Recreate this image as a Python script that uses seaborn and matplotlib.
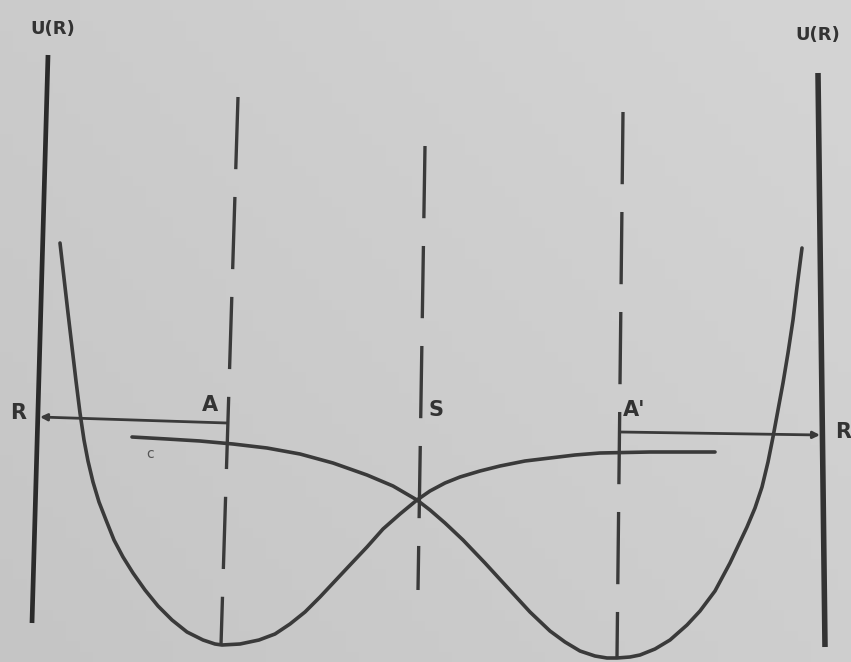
import numpy as np
import pandas as pd
import matplotlib
matplotlib.use("Agg")
import matplotlib.pyplot as plt
import seaborn as sns

sns.set_theme(style="white")
plt.rcParams["font.family"] = ["DejaVu Sans"]
plt.rcParams["lines.scale_dashes"] = False

# Potential energy curve of the left well (reactant A)
left_R = [60, 64, 68, 72, 76, 80, 84, 88, 93, 99, 106, 114, 123, 133, 145, 158,
          172, 187, 203, 215, 222, 240, 259, 275, 290, 305, 320, 335, 350, 367,
          383, 400, 417, 430, 445, 460, 480, 500, 525, 550, 575, 600, 650, 715]
left_U = [419, 384, 349, 315, 281, 249, 222, 201, 180, 160, 142, 122, 105, 89,
          72, 56, 42, 30, 22, 18, 17, 18, 22, 28, 38, 50, 65, 81, 97, 115, 133,
          148, 162, 171, 179, 185, 191, 196, 201, 204, 207, 209, 210, 210]

# Potential energy curve of the right well (product A')
right_R = [132, 167, 200, 233, 267, 300, 333, 367, 393, 405, 417, 430, 445, 463,
           485, 507, 530, 550, 565, 580, 595, 607, 617, 630, 640, 655, 670, 687,
           700, 715, 730, 747, 755, 762, 768, 773, 778, 783, 788, 793, 797, 802]
right_U = [225, 223, 221, 218, 214, 208, 199, 187, 176, 169, 162, 152, 139, 122,
           99, 75, 50, 31, 20, 11, 6, 4, 4, 5, 7, 13, 22, 37, 51, 71, 99, 135,
           154, 175, 200, 225, 252, 279, 309, 342, 375, 414]

# Energy axes (left and right)
axis_left_R, axis_left_U = [32, 48], [39, 607]
axis_right_R, axis_right_U = [825, 818], [15, 589]

# Dashed markers at A, S (crossing) and A'
marker_names = ["A", "S", "A'"]
marker_R = [[238, 221], [425, 418], [623, 617]]
marker_U = [[565, 17], [516, 72], [550, 5]]

# Horizontal arrows from the minima to the axes
arrow_left = ((227, 239), (40, 245))
arrow_right = ((620, 230), (820, 227))

ink = "#3a3a3a"
paper = "#cbcbcb"

fig = plt.figure(figsize=(8.51, 6.62), dpi=100, facecolor=paper)
ax = fig.add_axes([0, 0, 1, 1])
ax.set_xlim(0, 851)
ax.set_ylim(0, 662)

# paper tone, slightly lighter towards the upper right
gx, gy = np.meshgrid(np.linspace(0, 1, 64), np.linspace(0, 1, 64))
shade = 0.77 + 0.06 * (0.6 * gx + 0.4 * gy)
ax.imshow(shade, cmap="gray", vmin=0, vmax=1, extent=[0, 851, 0, 662],
          origin="lower", aspect="auto", zorder=0)

df = pd.concat([
    pd.DataFrame({"R": left_R, "U": left_U, "curve": "A"}),
    pd.DataFrame({"R": right_R, "U": right_U, "curve": "A'"}),
])
sns.lineplot(data=df, x="R", y="U", hue="curve", palette=[ink, ink],
             sort=False, estimator=None, legend=False, linewidth=2.6,
             ax=ax, zorder=3)
for line in ax.get_lines():
    line.set_solid_joinstyle("round")

ax.plot(axis_left_R, axis_left_U, color="#2a2a2a", linewidth=3.4,
        solid_capstyle="butt", zorder=3)
ax.plot(axis_right_R, axis_right_U, color="#333333", linewidth=4.0,
        solid_capstyle="butt", zorder=3)

for xs, us in zip(marker_R, marker_U):
    ax.plot(xs, us, color=ink, linewidth=2.4, linestyle=(0, (52, 20)),
            zorder=2)

for (x0, u0), (x1, u1) in (arrow_left, arrow_right):
    ax.annotate("", xy=(x1, u1), xytext=(x0, u0),
                arrowprops=dict(arrowstyle="-|>", color=ink, lw=2.0,
                                mutation_scale=10, shrinkA=0, shrinkB=0),
                zorder=3)

lbl = dict(color="#333333", fontweight="bold", ha="center", va="center")
ax.text(53, 633, "U(R)", fontsize=13, **lbl)
ax.text(818, 627, "U(R)", fontsize=13, **lbl)
ax.text(18, 249, "R", fontsize=15, **lbl)
ax.text(843, 230, "R", fontsize=15, **lbl)
ax.text(210, 257, "A", fontsize=15, **lbl)
ax.text(436, 252, "S", fontsize=15, **lbl)
ax.text(634, 252, "A'", fontsize=15, **lbl)
ax.text(150, 208, "c", fontsize=10, color="#555555", ha="center", va="center")

ax.set_axis_off()
fig.savefig("out.png", dpi=100, facecolor=paper)
